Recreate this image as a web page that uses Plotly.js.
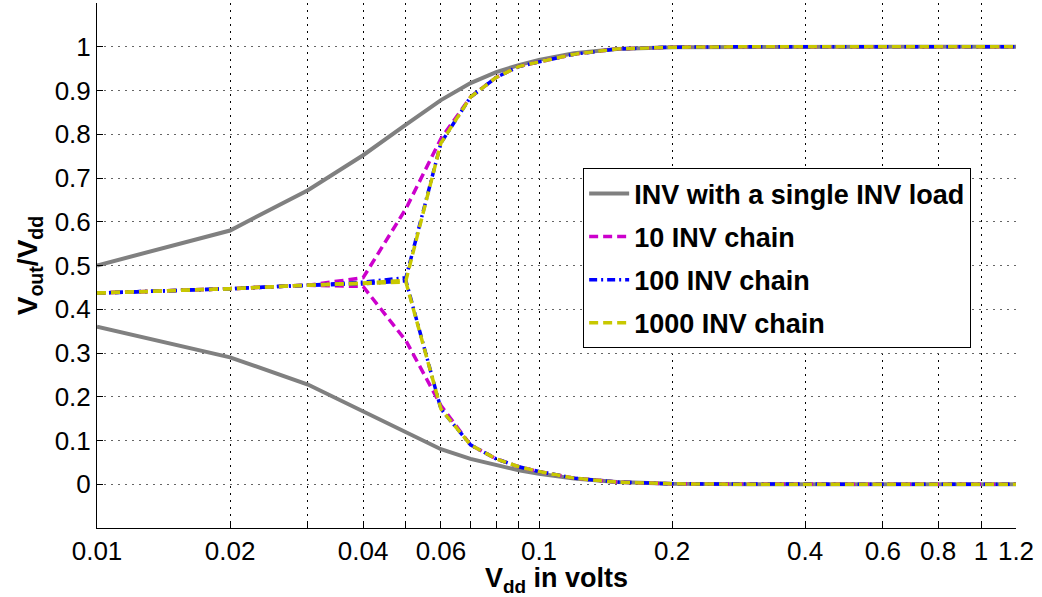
<!DOCTYPE html>
<html>
<head>
<meta charset="utf-8">
<script src="https://cdn.plot.ly/plotly-3.0.1.min.js"></script>
<style>html,body{margin:0;padding:0;background:#fff;}#chart{width:1042px;height:597px;}</style>
</head>
<body>
<div id="chart"></div>
<script>
// Supply voltage (V)
const vdd = [0.01,0.02,0.03,0.04,0.05,0.06,0.07,0.08,0.09,0.1,0.12,0.15,0.2,0.3,0.4,0.5,0.6,0.7,0.8,0.9,1.0,1.1,1.2];

// INV with a single INV load
const singleHigh = [0.50,0.58,0.672,0.752,0.822,0.878,0.917,0.942,0.958,0.970,0.985,0.995,0.999,1,1,1,1,1,1,1,1,1,1];
const singleLow  = [0.36,0.29,0.228,0.167,0.120,0.080,0.058,0.043,0.032,0.024,0.013,0.005,0.001,0,0,0,0,0,0,0,0,0,0];

// 10 INV chain
const chain10High = [0.437,0.447,0.455,0.472,0.630,0.790,0.885,0.930,0.955,0.966,0.983,0.995,0.999,1,1,1,1,1,1,1,1,1,1];
const chain10Low  = [0.437,0.447,0.455,0.452,0.328,0.180,0.090,0.058,0.040,0.029,0.014,0.005,0.001,0,0,0,0,0,0,0,0,0,0];

// 100 INV chain
const chain100High = [0.437,0.447,0.455,0.462,0.472,0.780,0.885,0.930,0.955,0.966,0.983,0.995,0.999,1,1,1,1,1,1,1,1,1,1];
const chain100Low  = [0.437,0.447,0.455,0.458,0.465,0.172,0.090,0.058,0.040,0.029,0.014,0.005,0.001,0,0,0,0,0,0,0,0,0,0];

// 1000 INV chain
const chain1000High = [0.437,0.447,0.455,0.460,0.466,0.780,0.885,0.930,0.955,0.966,0.983,0.995,0.999,1,1,1,1,1,1,1,1,1,1];
const chain1000Low  = [0.437,0.447,0.455,0.458,0.462,0.172,0.090,0.058,0.040,0.029,0.014,0.005,0.001,0,0,0,0,0,0,0,0,0,0];

const seriesNames = ["INV with a single INV load","10 INV chain","100 INV chain","1000 INV chain"];

// Axis ticks
const xTickVals = [0.01,0.02,0.04,0.06,0.1,0.2,0.4,0.6,0.8,1,1.2];
const xTickText = ["0.01","0.02","0.04","0.06","0.1","0.2","0.4","0.6","0.8","1","1.2"];
const xMinorVals = [0.03,0.05,0.07,0.08,0.09];
const yTickVals = [0,0.1,0.2,0.3,0.4,0.5,0.6,0.7,0.8,0.9,1];
const yTickText = ["0","0.1","0.2","0.3","0.4","0.5","0.6","0.7","0.8","0.9","1"];

function branchTrace(name, hi, lo, line) {
  return {
    type: "scatter", mode: "lines", name: name, legendgroup: name,
    x: vdd.concat([null], vdd),
    y: hi.concat([null], lo),
    connectgaps: false,
    line: line
  };
}

const traces = [
  branchTrace(seriesNames[0], singleHigh, singleLow, {color:"#808080", width:4}),
  branchTrace(seriesNames[1], chain10High, chain10Low, {color:"#CC00CC", width:3.5, dash:"9px,5px"}),
  branchTrace(seriesNames[2], chain100High, chain100Low, {color:"#0000FF", width:3.5, dash:"8px,4px,2px,4px"}),
  branchTrace(seriesNames[3], chain1000High, chain1000Low, {color:"#C8C800", width:3.5, dash:"9px,5px"})
];

const font = "Liberation Sans, Arial, Helvetica, sans-serif";

const layout = {
  width: 1042, height: 597,
  margin: {l: 97, r: 26, t: 3, b: 69},
  paper_bgcolor: "#fff", plot_bgcolor: "#fff",
  font: {family: font, color: "#000", size: 26},
  showlegend: true,
  legend: {
    x: 0.529, y: 0.685, xanchor: "left", yanchor: "top",
    bgcolor: "#fff", bordercolor: "#000", borderwidth: 1,
    font: {family: font, size: 27, weight: "bold", color: "#000"},
    itemwidth: 40, tracegroupgap: 5, traceorder: "grouped"
  },
  xaxis: {
    type: "log", range: [Math.log10(0.01), Math.log10(1.2)],
    tickmode: "array", tickvals: xTickVals, ticktext: xTickText,
    ticks: "inside", ticklen: 6, tickcolor: "#000",
    showgrid: true, gridcolor: "#000", griddash: "2px,5px", gridwidth: 1,
    minor: {tickmode: "array", tickvals: xMinorVals, ticks: "inside", ticklen: 6, tickcolor: "#000",
            showgrid: true, gridcolor: "#000", griddash: "2px,5px", gridwidth: 1},
    showline: true, linecolor: "#000", linewidth: 1,
    zeroline: false,
    tickfont: {family: font, size: 26},
    title: {text: "<b>V<sub>dd</sub> in volts</b>", font: {family: font, size: 27}, standoff: 4}
  },
  yaxis: {
    range: [-0.1, 1.1],
    tickmode: "array", tickvals: yTickVals, ticktext: yTickText,
    ticks: "inside", ticklen: 6, tickcolor: "#000",
    showgrid: true, gridcolor: "#666", griddash: "2px,5px", gridwidth: 1,
    showline: true, linecolor: "#000", linewidth: 1,
    zeroline: false,
    tickfont: {family: font, size: 26},
    title: {text: "<b>V<sub>out</sub>/V<sub>dd</sub></b>", font: {family: font, size: 28}, standoff: 8}
  }
};

Plotly.newPlot("chart", traces, layout, {displayModeBar: false, staticPlot: true});
</script>
</body>
</html>
